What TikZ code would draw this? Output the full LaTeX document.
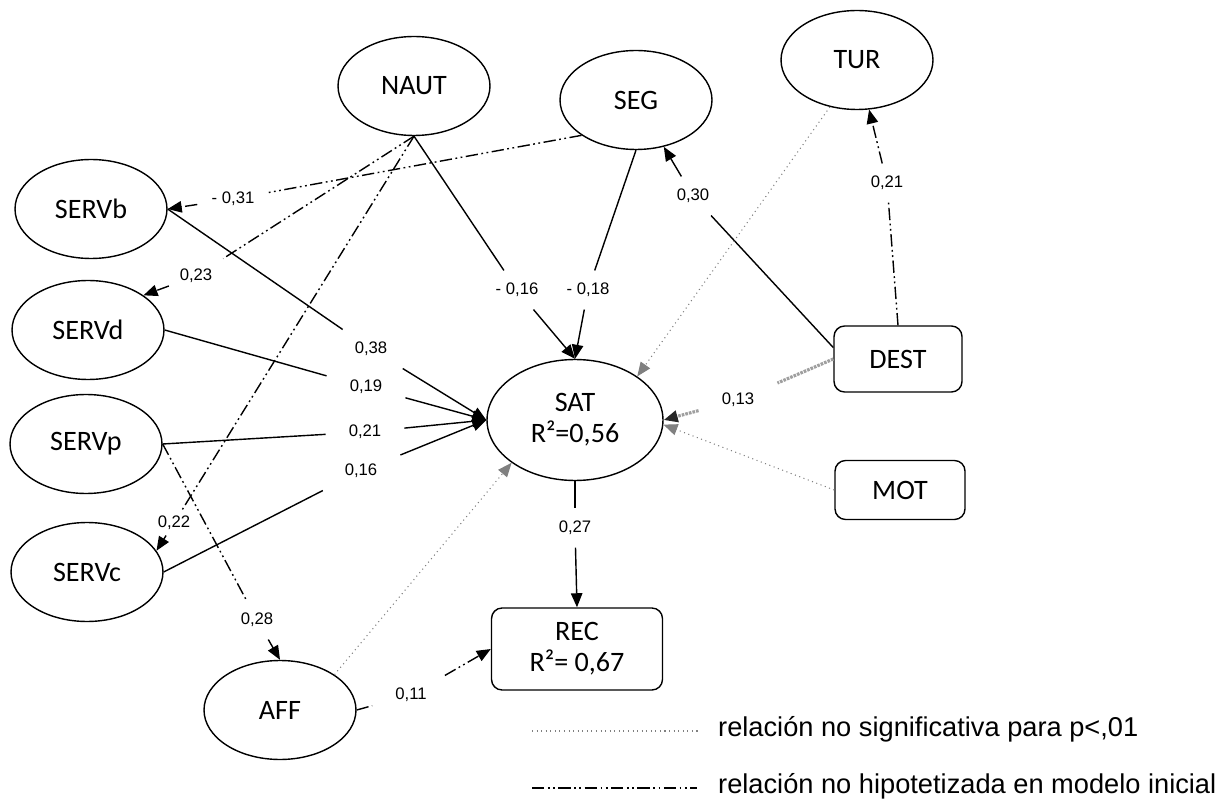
\documentclass[tikz,border=0pt]{standalone}
\usepackage{fontspec}
\setmainfont{Carlito}
\newfontfamily\arialfont{Liberation Sans}
\usetikzlibrary{shapes.geometric,arrows.meta}

\begin{document}
\begin{tikzpicture}[x=0.02cm,y=-0.02cm,
        lat/.style={ellipse,draw,line width=0.8pt,minimum width=3.04cm,minimum height=1.98cm,inner sep=0pt,align=center,font=\fontsize{16}{17.5}\selectfont},
        obs/.style={rectangle,draw,rounded corners=6pt,line width=0.8pt,inner sep=0pt,align=center,font=\fontsize{16}{17.5}\selectfont},
        coef/.style={inner xsep=13pt,inner ysep=7pt,font=\arialfont\fontsize{9.5}{11}\selectfont},
        arr/.style={-{Triangle[length=8pt,width=6.5pt]}},
        sig/.style={line width=0.8pt},
        ns/.style={gray,line width=0.6pt,dotted},
        hyp/.style={line width=0.8pt,dash pattern=on 7pt off 2pt on 1pt off 2pt on 1pt off 2pt},
        hatch/.style={gray!75,line width=1.8pt,dash pattern=on 1.5pt off 0.6pt}]
            \useasboundingbox (0,0) rectangle (1227,807);

            % 潜变量
            \node[lat] (NAUT) at (414,86) {NAUT};
            \node[lat] (SEG) at (636,100) {SEG};
            \node[lat] (TUR) at (857,60) {TUR};
            \node[lat] (SERVb) at (91,209) {SERVb};
            \node[lat] (SERVd) at (88,330) {SERVd};
            \node[lat] (SERVp) at (86,444) {SERVp};
            \node[lat] (SERVc) at (87,572) {SERVc};
            \node[lat] (AFF) at (280,710) {AFF};
            \node[lat, minimum width=3.52cm, minimum height=2.42cm] (SAT) at (575,420) {SAT\\R²=0,56};

            % 观测变量
            \node[obs, minimum width=2.56cm, minimum height=1.32cm] (DEST) at (898,359) {DEST};
            \node[obs, minimum width=2.6cm, minimum height=1.18cm] (MOT) at (900,490) {MOT};
            \node[obs, minimum width=3.42cm, minimum height=1.64cm] (REC) at (577,649) {REC\\R²= 0,67};

            % 系数
            \node[coef, inner xsep=8pt] (c31) at (233,199) {- 0,31};
            \node[coef, inner xsep=6pt] (c23) at (196,276) {0,23};
            \node[coef] (c16n) at (517,290) {- 0,16};
            \node[coef] (c18) at (588,290) {- 0,18};
            \node[coef] (c30) at (693,196) {0,30};
            \node[coef] (c21t) at (887,183) {0,21};
            \node[coef] (c38) at (371,349) {0,38};
            \node[coef] (c19) at (366,387) {0,19};
            \node[coef] (c21) at (365,432) {0,21};
            \node[coef] (c16) at (361,471) {0,16};
            \node[coef] (c13) at (738,400) {0,13};
            \node[coef, inner xsep=6pt, inner ysep=3pt] (c22) at (174,523) {0,22};
            \node[coef] (c28) at (257,620) {0,28};
            \node[coef] (c27) at (575,528) {0,27};
            \node[coef] (c11) at (411,695) {0,11};

            % 显著关系
            \draw[sig] (SERVb.east) -- (c38);
            \draw[sig, arr] (c38) -- (SAT.west);
            \draw[sig] (SERVd.east) -- (c19);
            \draw[sig, arr] (c19) -- (SAT.west);
            \draw[sig] (SERVp.east) -- (c21);
            \draw[sig, arr] (c21) -- (SAT.west);
            \draw[sig] (SERVc.east) -- (c16);
            \draw[sig, arr] (c16) -- (SAT.west);
            \draw[sig] (NAUT.south) -- (c16n);
            \draw[sig, arr] (c16n) -- (SAT.north);
            \draw[sig] (SEG.south) -- (c18);
            \draw[sig, arr] (c18) -- (SAT.north);
            \draw[sig] (DEST.170) -- (c30);
            \draw[sig, arr] (c30) -- (SEG);
            \draw[sig] (SAT.south) -- (c27);
            \draw[sig, arr] (c27) -- (REC.north);
            \draw[hatch] (DEST.west) -- (c13);
            \draw[hatch, -{Triangle[length=8pt,width=6.5pt,color=black!85]}] (c13) -- (SAT.east);

            % 非显著关系
            \draw[ns, arr] (TUR.240) -- (SAT.35);
            \draw[ns, arr] (MOT.west) -- (SAT.-3);
            \draw[ns, arr] (AFF.33) -- (SAT.214);

            % 未假设的关系
            \draw[hyp] (SEG.213) -- (c31);
            \draw[hyp, arr] (c31) -- (SERVb.east);
            \draw[hyp] (NAUT.south) -- (c23);
            \draw[hyp, arr] (c23) -- (SERVd.32);
            \draw[hyp] (NAUT.south) -- (c22);
            \draw[hyp, arr] (c22) -- (SERVc.17);
            \draw[hyp] (SERVp.east) -- (c28);
            \draw[hyp, arr] (c28) -- (AFF.north);
            \draw[hyp] (DEST.north) -- (c21t);
            \draw[hyp, arr] (c21t) -- (TUR);
            \draw[hyp] (AFF.east) -- (c11);
            \draw[hyp, arr] (c11) -- (REC.west);

            % 图例
            \coordinate (ns1) at (532,731);
            \coordinate (ns2) at (700,731);
            \coordinate (hyp1) at (532,788);
            \coordinate (hyp2) at (697,788);
            \draw[ns] (ns1) -- (ns2);
            \draw[hyp] (hyp1) -- (hyp2);
            \node[anchor=west, font=\arialfont\fontsize{15.5}{18}\selectfont] (leg1) at (712,729) {relación no significativa para p<,01};
            \node[anchor=west, font=\arialfont\fontsize{15.5}{18}\selectfont] (leg2) at (712,786) {relación no hipotetizada en modelo inicial};

        \end{tikzpicture}
\end{document}
